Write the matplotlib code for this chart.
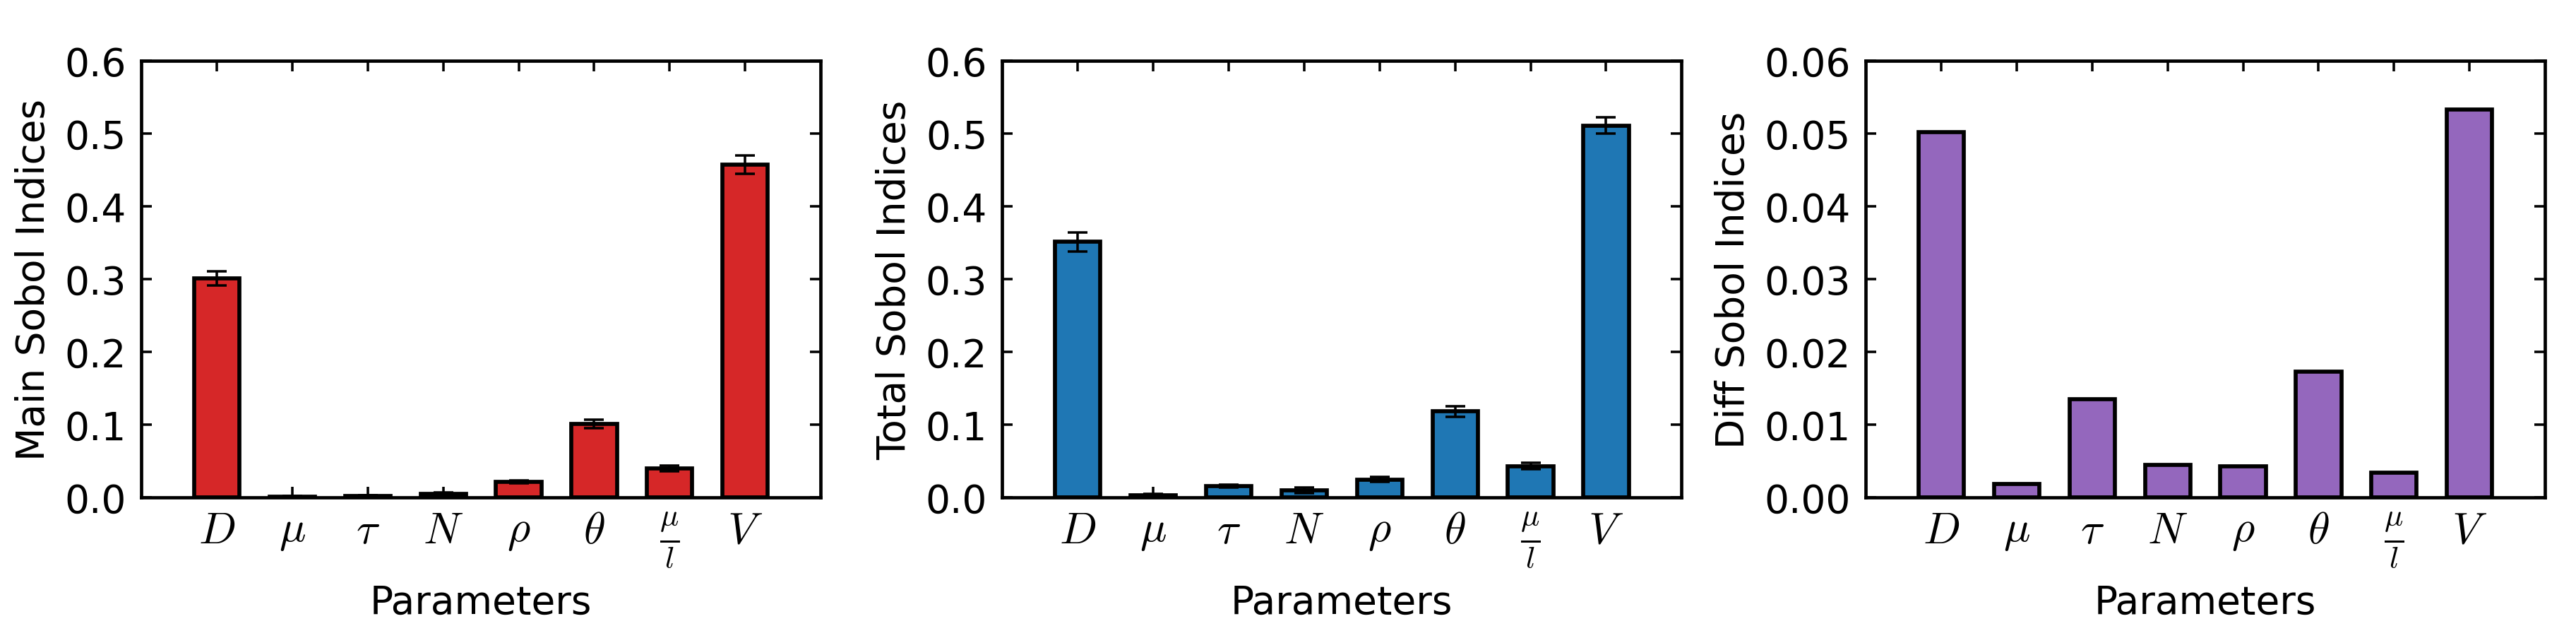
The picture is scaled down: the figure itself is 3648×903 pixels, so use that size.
import matplotlib
matplotlib.use("Agg")
import matplotlib.pyplot as plt

params = [r'$D$', r'$\mu$', r'$\tau$', r'$N$', r'$\rho$', r'$\theta$', r'$\frac{\mu}{l}$', r'$V$']

main_vals = [0.301, 0.001, 0.0015, 0.005, 0.021, 0.101, 0.040, 0.457]
main_err = [0.010, 0.001, 0.001, 0.002, 0.002, 0.0055, 0.004, 0.0125]

total_vals = [0.351, 0.003, 0.0152, 0.0095, 0.0247, 0.118, 0.0432, 0.511]
total_err = [0.0135, 0.002, 0.002, 0.004, 0.003, 0.0075, 0.0045, 0.0115]

diff_vals = [0.0502, 0.00185, 0.0135, 0.00443, 0.00426, 0.0173, 0.00342, 0.0533]

plt.rcParams['mathtext.fontset'] = 'cm'
plt.rcParams['font.family'] = 'DejaVu Sans'
plt.rcParams['font.size'] = 13.2
plt.rcParams['axes.linewidth'] = 1.13

fig = plt.figure(figsize=(12.16, 3.0133), dpi=300)

panels = [
    (main_vals, main_err, '#d62728', 'Main Sobol Indices', 0.6, 0.1, '%.1f'),
    (total_vals, total_err, '#1f77b4', 'Total Sobol Indices', 0.6, 0.1, '%.1f'),
    (diff_vals, None, '#9467bd', 'Diff Sobol Indices', 0.06, 0.01, '%.2f'),
]
lefts = [0.0548, 0.389, 0.7242]
width = 0.2638
bottom = 0.2201
height = 0.6837

for (vals, err, color, ylabel, ymax, step, fmt), left in zip(panels, lefts):
    ax = fig.add_axes([left, bottom, width, height])
    x = list(range(len(params)))
    ax.bar(x, vals, width=0.6, color=color, edgecolor='black', linewidth=1.37,
           align='center', zorder=2)
    if err is not None:
        ax.errorbar(x, vals, yerr=err, fmt='none', ecolor='black',
                    elinewidth=0.85, capsize=3.3, capthick=0.85, zorder=3)
    ax.set_xlim(-1, 8)
    ax.set_ylim(0, ymax)
    nticks = int(round(ymax / step))
    ax.set_yticks([i * step for i in range(nticks + 1)])
    ax.yaxis.set_major_formatter(matplotlib.ticker.FormatStrFormatter(fmt))
    ax.set_xticks(x)
    ax.set_xticklabels(params)
    ax.tick_params(direction='in', top=True, right=True, length=3.5, width=0.85)
    ax.tick_params(axis='x', pad=4, labelsize=15)
    ax.tick_params(axis='y', pad=5, labelsize=13.2)
    ax.set_ylabel(ylabel)
    ax.set_xlabel('Parameters', labelpad=5)

fig.savefig('out.png', dpi=300)
